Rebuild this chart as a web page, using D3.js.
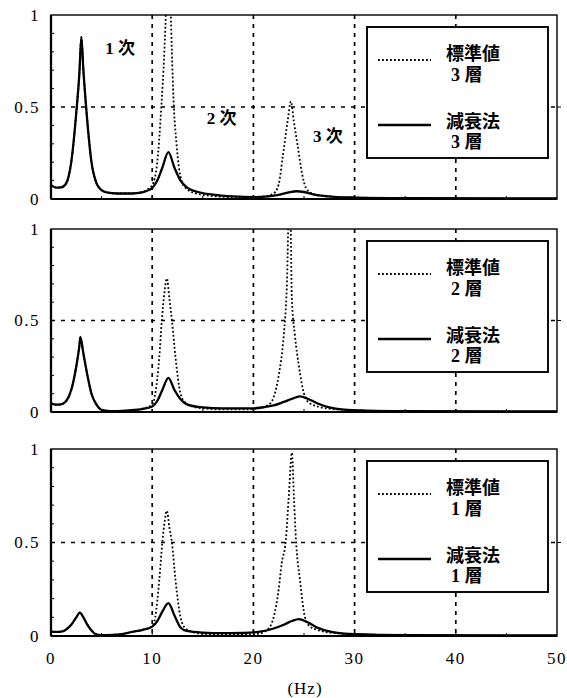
<!DOCTYPE html>
<html>
<head>
<meta charset="utf-8">
<script src="https://cdn.jsdelivr.net/npm/d3@7"></script>
<style>
  body { margin: 0; background: #fff; }
  svg text { font-family: "Liberation Serif", "Noto Sans CJK JP", serif; fill: #000; }
</style>
</head>
<body>
<svg id="chart" width="567" height="698"></svg>
<script>
// tick labels and series names
var freqTicks = [0, 10, 20, 30, 40, 50];
var ampTicks = [0, 0.5, 1];
var layerNames = ["3 層", "2 層", "1 層"];
var seriesNames = ["標準値", "減衰法"];
var modeLabels = [["1 次", 5.35, 0.82], ["2 次", 15.4, 0.44], ["3 次", 25.9, 0.34]];

// [Hz, amplitude]
var dec3 = [[0,0.075],[0.5,0.062],[1,0.063],[1.5,0.085],[2,0.2],[2.5,0.47],[2.8,0.68],[3.0,0.88],[3.2,0.7],[3.5,0.48],[4,0.2],[4.5,0.085],[5,0.048],[5.5,0.036],[6.5,0.03],[8,0.03],[9,0.036],[9.5,0.045],[10,0.06],[10.5,0.1],[11,0.17],[11.6,0.255],[12.2,0.17],[12.8,0.1],[13.5,0.06],[14.5,0.038],[16,0.024],[18,0.014],[20,0.01],[21.5,0.014],[22.5,0.022],[23.5,0.036],[24.3,0.042],[25,0.038],[26,0.024],[28,0.012],[30,0.008],[35,0.005],[50,0.003]];
var std3 = [[0,0.075],[0.5,0.062],[1,0.063],[1.5,0.085],[2,0.2],[2.5,0.47],[2.8,0.68],[3.0,0.88],[3.2,0.7],[3.5,0.48],[4,0.2],[4.5,0.085],[5,0.048],[5.5,0.036],[6.5,0.03],[8,0.03],[9,0.038],[9.5,0.05],[10,0.075],[10.5,0.2],[10.9,0.5],[11.2,0.8],[11.4,1.1],[11.6,1.6],[11.8,1.1],[12.1,0.55],[12.4,0.3],[12.9,0.1],[13.5,0.05],[14.5,0.028],[16,0.016],[18,0.01],[20,0.01],[21,0.014],[22,0.03],[22.5,0.08],[22.9,0.23],[23.4,0.43],[23.7,0.53],[24,0.42],[24.4,0.28],[24.8,0.14],[25.2,0.06],[25.8,0.03],[27,0.015],[30,0.008],[35,0.005],[50,0.003]];

var dec2 = [[0,0.048],[0.5,0.04],[1,0.042],[1.5,0.06],[2,0.12],[2.5,0.25],[2.8,0.36],[2.9,0.41],[3.2,0.32],[3.6,0.2],[4,0.1],[4.5,0.04],[5,0.012],[6,0.005],[7,0.006],[8,0.01],[9,0.016],[10,0.03],[10.5,0.06],[11,0.12],[11.6,0.187],[12.2,0.12],[12.8,0.07],[13.5,0.04],[15,0.025],[17,0.02],[20,0.02],[21,0.026],[22,0.036],[23,0.055],[24,0.076],[24.6,0.085],[25.3,0.074],[26.3,0.048],[27.5,0.025],[29,0.013],[31,0.008],[35,0.005],[50,0.003]];
var std2 = [[0,0.048],[0.5,0.04],[1,0.042],[1.5,0.06],[2,0.12],[2.5,0.25],[2.8,0.36],[2.9,0.41],[3.2,0.32],[3.6,0.2],[4,0.1],[4.5,0.04],[5,0.012],[6,0.005],[7,0.006],[8,0.01],[9,0.018],[10,0.04],[10.3,0.1],[10.7,0.3],[10.95,0.5],[11.2,0.65],[11.45,0.73],[11.7,0.62],[11.95,0.5],[12.3,0.3],[12.8,0.1],[13.3,0.05],[14,0.03],[15,0.02],[17,0.014],[19,0.014],[20.5,0.02],[21.5,0.04],[22,0.08],[22.5,0.2],[23,0.42],[23.3,0.68],[23.6,1.3],[23.8,0.62],[24.1,0.42],[24.5,0.25],[25,0.1],[25.5,0.05],[26.5,0.028],[28,0.015],[31,0.008],[35,0.005],[50,0.003]];

var dec1 = [[0,0.023],[0.5,0.022],[1,0.023],[1.5,0.035],[2,0.06],[2.5,0.1],[2.85,0.125],[3.2,0.1],[3.6,0.06],[4,0.03],[4.4,0.01],[5,0.005],[6,0.006],[7,0.01],[8,0.022],[9,0.032],[10,0.05],[10.5,0.08],[11,0.13],[11.6,0.176],[12.2,0.11],[12.8,0.045],[13.4,0.027],[15,0.018],[17,0.015],[19,0.016],[20.5,0.022],[22,0.04],[23,0.06],[23.8,0.08],[24.5,0.09],[25.3,0.075],[26.3,0.045],[27.6,0.023],[29,0.013],[30,0.01],[35,0.005],[50,0.003]];
var std1 = [[0,0.023],[0.5,0.022],[1,0.023],[1.5,0.035],[2,0.06],[2.5,0.1],[2.85,0.125],[3.2,0.1],[3.6,0.06],[4,0.03],[4.4,0.01],[5,0.005],[6,0.006],[7,0.01],[8,0.022],[9,0.032],[10,0.052],[10.3,0.1],[10.7,0.3],[11.0,0.5],[11.2,0.6],[11.45,0.67],[11.7,0.58],[11.95,0.5],[12.3,0.3],[12.8,0.1],[13.3,0.04],[14,0.022],[15,0.012],[17,0.007],[19,0.007],[20.5,0.012],[21.5,0.04],[22,0.1],[22.5,0.25],[22.8,0.39],[23.2,0.51],[23.5,0.75],[23.8,0.98],[24.0,0.75],[24.2,0.52],[24.6,0.3],[25.1,0.1],[25.6,0.05],[26.5,0.03],[28,0.015],[31,0.008],[35,0.005],[50,0.003]];

var stdSeries = [std3, std2, std1];
var decSeries = [dec3, dec2, dec1];

var svg = d3.select("#chart");
var plotLeft = 51, plotRight = 557;
var panelTops = [15, 229, 449];
var panelH = [184, 183, 187];
var dotted = "1.8,2.2";

var x = d3.scaleLinear().domain([0, 50]).range([plotLeft, plotRight]);

function drawPanel(p) {
    var pTop = panelTops[p], pBottom = pTop + panelH[p];
    var y = d3.scaleLinear().domain([0, 1]).range([pBottom, pTop]);
    var g = svg.append("g");

    var line = d3.line()
        .x(function (d) { return x(d[0]); })
        .y(function (d) { return y(d[1]); })
        .curve(d3.curveMonotoneX);

    g.append("clipPath").attr("id", "clip" + p)
        .append("rect")
        .attr("x", plotLeft).attr("y", pTop)
        .attr("width", plotRight - plotLeft).attr("height", pBottom - pTop);

    // dashed grid
    g.selectAll(".vgrid").data([10, 20, 30, 40]).enter()
        .append("line")
        .attr("x1", function (d) { return x(d); })
        .attr("x2", function (d) { return x(d); })
        .attr("y1", pTop).attr("y2", pBottom)
        .attr("stroke", "#000").attr("stroke-width", 1.7)
        .attr("stroke-dasharray", "4,5");
    g.append("line")
        .attr("x1", plotLeft).attr("x2", plotRight)
        .attr("y1", y(0.5)).attr("y2", y(0.5))
        .attr("stroke", "#000").attr("stroke-width", 1.4)
        .attr("stroke-dasharray", "4,6");

    // minor ticks
    g.selectAll(".ytk").data(d3.range(0.1, 1, 0.1)).enter()
        .append("line")
        .attr("x1", plotLeft).attr("x2", plotLeft + 3)
        .attr("y1", function (d) { return y(d); })
        .attr("y2", function (d) { return y(d); })
        .attr("stroke", "#000").attr("stroke-width", 1);
    g.selectAll(".xtk").data(d3.range(5, 50, 5)).enter()
        .append("line")
        .attr("x1", function (d) { return x(d); })
        .attr("x2", function (d) { return x(d); })
        .attr("y1", pBottom).attr("y2", pBottom - 3)
        .attr("stroke", "#000").attr("stroke-width", 1);
    g.append("line")
        .attr("x1", plotRight).attr("x2", plotRight + 4)
        .attr("y1", y(0.5)).attr("y2", y(0.5))
        .attr("stroke", "#000").attr("stroke-width", 1);

    // curves
    var curves = g.append("g").attr("clip-path", "url(#clip" + p + ")");
    curves.append("path")
        .attr("d", line(stdSeries[p]))
        .attr("fill", "none").attr("stroke", "#000")
        .attr("stroke-width", 1.8).attr("stroke-dasharray", dotted);
    curves.append("path")
        .attr("d", line(decSeries[p]))
        .attr("fill", "none").attr("stroke", "#000")
        .attr("stroke-width", 2.3);

    // frame
    g.append("rect")
        .attr("x", plotLeft).attr("y", pTop)
        .attr("width", plotRight - plotLeft).attr("height", pBottom - pTop)
        .attr("fill", "none").attr("stroke", "#000").attr("stroke-width", 1.4);
    g.append("line")
        .attr("x1", plotLeft).attr("x2", plotLeft).attr("y1", pTop).attr("y2", pBottom)
        .attr("stroke", "#000").attr("stroke-width", 2.3);
    g.append("line")
        .attr("x1", plotLeft).attr("x2", plotRight).attr("y1", pBottom).attr("y2", pBottom)
        .attr("stroke", "#000").attr("stroke-width", 2.1);

    // y labels
    g.selectAll(".ylab").data(ampTicks).enter()
        .append("text")
        .attr("x", plotLeft - 11)
        .attr("y", function (d) { return y(d); })
        .attr("dy", "0.35em")
        .attr("text-anchor", "end")
        .attr("font-size", 17)
        .attr("letter-spacing", 1.5)
        .text(function (d) { return d; });

    // legend
    var bx = 367, by = pTop + 12, bw = 181, bh = 131;
    var lg = g.append("g");
    lg.append("rect")
        .attr("x", bx).attr("y", by).attr("width", bw).attr("height", bh)
        .attr("fill", "#fff").attr("stroke", "#000").attr("stroke-width", 1.9);
    lg.append("line")
        .attr("x1", bx + 11).attr("x2", bx + 64)
        .attr("y1", by + 33).attr("y2", by + 33)
        .attr("stroke", "#000").attr("stroke-width", 1.8).attr("stroke-dasharray", dotted);
    lg.append("line")
        .attr("x1", bx + 11).attr("x2", bx + 64)
        .attr("y1", by + 98).attr("y2", by + 98)
        .attr("stroke", "#000").attr("stroke-width", 2.3);
    var rows = [[seriesNames[0], by + 27, 0], [layerNames[p], by + 48, 5],
                [seriesNames[1], by + 95, 0], [layerNames[p], by + 115, 5]];
    lg.selectAll(".lt").data(rows).enter()
        .append("text")
        .attr("x", function (d) { return bx + 79 + d[2]; })
        .attr("y", function (d) { return d[1]; })
        .attr("dy", "0.35em")
        .attr("font-size", 18)
        .attr("font-weight", 700)
        .text(function (d) { return d[0]; });

    if (p === 0) {
        g.selectAll(".mode").data(modeLabels).enter()
            .append("text")
            .attr("x", function (d) { return x(d[1]); })
            .attr("y", function (d) { return y(d[2]); })
            .attr("dy", "0.35em")
            .attr("font-size", 17)
            .attr("font-weight", 700)
            .text(function (d) { return d[0]; });
    }

    if (p === 2) {
        g.selectAll(".xlab").data(freqTicks).enter()
            .append("text")
            .attr("x", function (d) { return x(d); })
            .attr("y", 658)
            .attr("dy", "0.35em")
            .attr("text-anchor", "middle")
            .attr("font-size", 17)
            .attr("letter-spacing", 1.5)
            .text(function (d) { return d; });
        svg.append("text")
            .attr("x", 305).attr("y", 688)
            .attr("dy", "0.35em")
            .attr("text-anchor", "middle")
            .attr("font-size", 17)
            .attr("letter-spacing", 1)
            .text("(Hz)");
    }
}

for (var i = 0; i < 3; i++) drawPanel(i);
</script>
</body>
</html>
